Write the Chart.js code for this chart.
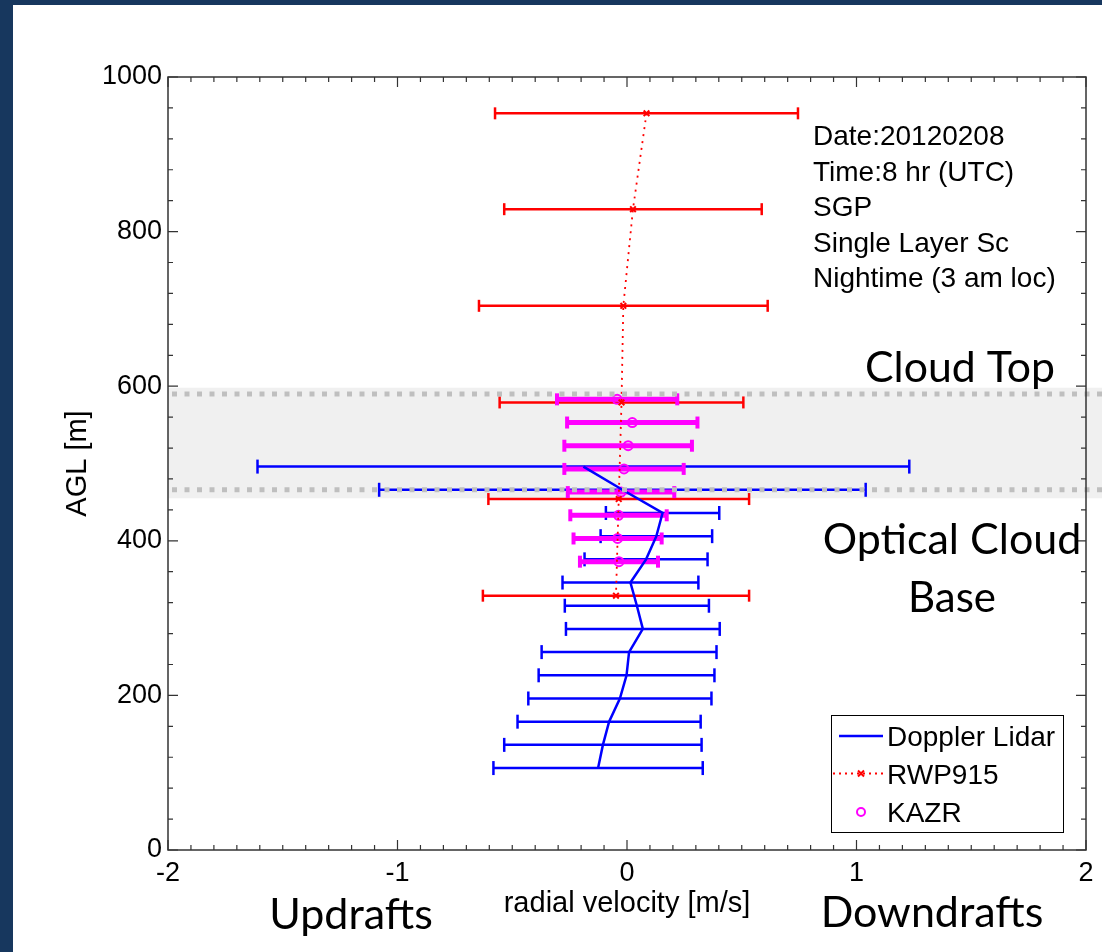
<!DOCTYPE html>
<html>
<head>
<meta charset="utf-8">
<script src="https://cdn.jsdelivr.net/npm/chart.js@4.4.1/dist/chart.umd.min.js"></script>
<style>
  html, body { margin: 0; padding: 0; background: #fff; }
  #wrap { position: relative; width: 1102px; height: 952px; overflow: hidden; background: #fff; }
  #c { position: absolute; left: 0; top: 0; }
  .navy { position: absolute; background: #17375e; }
</style>
</head>
<body>
<div id="wrap">
  <canvas id="c" width="1102" height="952"></canvas>
  <div class="navy" style="left:0;top:0;width:1102px;height:5px"></div>
  <div class="navy" style="left:0;top:0;width:13px;height:952px"></div>
</div>
<script>
// Doppler Lidar: height [m], mean radial velocity [m/s], error bar half-width
const LIDAR_H = [496, 466, 436, 406, 376, 346, 316, 286, 256, 226, 196, 166, 136, 106];
const LIDAR_V = [-0.19, -0.02, 0.155, 0.128, 0.083, 0.015, 0.043, 0.069, 0.009, -0.002, -0.031, -0.078, -0.105, -0.126];
const LIDAR_E = [1.42, 1.06, 0.247, 0.243, 0.268, 0.296, 0.314, 0.335, 0.381, 0.383, 0.399, 0.399, 0.43, 0.456];

// RWP915 wind profiler
const RWP_H = [953, 829, 704, 579, 454, 329];
const RWP_V = [0.085, 0.026, -0.016, -0.024, -0.036, -0.048];
const RWP_E = [0.66, 0.561, 0.629, 0.531, 0.568, 0.58];

// KAZR cloud radar
const KAZR_H = [583, 553, 523, 493, 463, 433, 403, 373];
const KAZR_V = [-0.043, 0.023, 0.005, -0.013, -0.026, -0.037, -0.041, -0.035];
const KAZR_E = [0.262, 0.284, 0.278, 0.26, 0.232, 0.21, 0.192, 0.17];

// cloud layer (shaded band and dotted top / base lines), metres
const CLOUD_SHADE = [455, 598];
const CLOUD_LINES = [590, 466];

const X_TICKS = [-2, -1, 0, 1, 2];
const X_TICK_LABELS = ['-2', '-1', '0', '1', '2'];
const Y_TICKS = [0, 200, 400, 600, 800, 1000];
const Y_TICK_LABELS = ['0', '200', '400', '600', '800', '1000'];

const INFO_LINES = ['Date:20120208', 'Time:8 hr (UTC)', 'SGP', 'Single Layer Sc', 'Nightime (3 am loc)'];
const SERIES = ['Doppler Lidar', 'RWP915', 'KAZR'];

const BLUE = '#0000ff';
const RED = '#ff0000';
const MAGENTA = '#ff00ff';
const FONT = '"Liberation Sans", Arial, sans-serif';
const BIG_FONT = 'Lato, "Open Sans", sans-serif';

function points(h, v) {
    return h.map((y, i) => ({ x: v[i], y: y }));
}

function errorBars(h, v, e) {
    const pts = [];
    h.forEach((y, i) => {
        pts.push({ x: v[i] - e[i], y: y }, { x: v[i] + e[i], y: y }, { x: null, y: null });
    });
    return pts;
}

function tickLabel(value, ticks, labels) {
    const idx = ticks.findIndex(t => Math.abs(t - value) < 1e-6);
    return idx >= 0 ? labels[idx] : '';
}

const decor = {
    id: 'decor',
    beforeDatasetsDraw(chart) {
        const { ctx, chartArea, scales } = chart;
        const y0 = scales.y.getPixelForValue(CLOUD_SHADE[1]);
        const y1 = scales.y.getPixelForValue(CLOUD_SHADE[0]);
        ctx.save();
        ctx.fillStyle = '#f0f0f0';
        ctx.fillRect(chartArea.left, y0, chart.width - chartArea.left, y1 - y0);
        ctx.restore();
    },
    afterDatasetsDraw(chart) {
        const { ctx, chartArea, scales } = chart;
        const x = scales.x, y = scales.y;
        ctx.save();
        // cloud top / base dotted lines
        ctx.strokeStyle = '#bfbfbf';
        ctx.lineWidth = 5;
        ctx.setLineDash([5, 7.5]);
        CLOUD_LINES.forEach(h => {
            const py = y.getPixelForValue(h);
            ctx.beginPath();
            ctx.moveTo(chartArea.left + 4, py);
            ctx.lineTo(chart.width, py);
            ctx.stroke();
        });
        ctx.setLineDash([]);

        // box
        ctx.strokeStyle = '#333';
        ctx.lineWidth = 1.5;
        ctx.strokeRect(chartArea.left, chartArea.top, chartArea.right - chartArea.left, chartArea.bottom - chartArea.top);

        // inward ticks on all four sides
        ctx.lineWidth = 1.2;
        ctx.beginPath();
        x.ticks.forEach(t => {
            const px = x.getPixelForValue(t.value);
            const len = Math.abs(t.value - Math.round(t.value)) < 1e-6 ? 10 : 5;
            ctx.moveTo(px, chartArea.bottom);
            ctx.lineTo(px, chartArea.bottom - len);
            ctx.moveTo(px, chartArea.top);
            ctx.lineTo(px, chartArea.top + len);
        });
        y.ticks.forEach(t => {
            const py = y.getPixelForValue(t.value);
            const len = Math.round(t.value) % 200 === 0 ? 10 : 5;
            ctx.moveTo(chartArea.left, py);
            ctx.lineTo(chartArea.left + len, py);
            ctx.moveTo(chartArea.right, py);
            ctx.lineTo(chartArea.right - len, py);
        });
        ctx.stroke();
        ctx.restore();
    },
    afterDraw(chart) {
        const { ctx } = chart;
        ctx.save();
        ctx.fillStyle = '#000';
        ctx.textAlign = 'left';
        ctx.textBaseline = 'alphabetic';
        ctx.font = '28px ' + FONT;
        INFO_LINES.forEach((s, i) => {
            ctx.fillText(s, 813, 145 + i * 35.6, 250);
        });

        ctx.font = '43px ' + BIG_FONT;
        ctx.textAlign = 'center';
        ctx.fillText('Cloud Top', 960, 382, 190);
        ctx.fillText('Optical Cloud', 952, 554, 260);
        ctx.fillText('Base', 952, 612, 88);
        ctx.fillText('Updrafts', 351, 929, 167);
        ctx.fillText('Downdrafts', 932, 927, 225);

        // legend
        const lx = 831, ly = 715, lw = 232, lh = 117;
        ctx.fillStyle = '#fff';
        ctx.fillRect(lx, ly, lw, lh);
        ctx.strokeStyle = '#000';
        ctx.lineWidth = 1;
        ctx.strokeRect(lx + 0.5, ly + 0.5, lw, lh);

        const rows = [736, 773.5, 812];
        ctx.lineWidth = 2.5;
        ctx.strokeStyle = BLUE;
        ctx.beginPath();
        ctx.moveTo(839, rows[0]);
        ctx.lineTo(883, rows[0]);
        ctx.stroke();

        ctx.strokeStyle = RED;
        ctx.lineWidth = 1.8;
        ctx.setLineDash([2, 4]);
        ctx.beginPath();
        ctx.moveTo(833, rows[1]);
        ctx.lineTo(885, rows[1]);
        ctx.stroke();
        ctx.setLineDash([]);
        ctx.lineWidth = 2;
        ctx.beginPath();
        ctx.moveTo(858, rows[1] - 3);
        ctx.lineTo(864, rows[1] + 3);
        ctx.moveTo(864, rows[1] - 3);
        ctx.lineTo(858, rows[1] + 3);
        ctx.stroke();

        ctx.strokeStyle = MAGENTA;
        ctx.lineWidth = 2;
        ctx.beginPath();
        ctx.arc(861, rows[2], 4, 0, Math.PI * 2);
        ctx.stroke();

        ctx.fillStyle = '#000';
        ctx.textAlign = 'left';
        ctx.font = '28px ' + FONT;
        SERIES.forEach((s, i) => {
            ctx.fillText(s, 887, rows[i] + 10);
        });
        ctx.restore();
    }
};

new Chart(document.getElementById('c'), {
    type: 'scatter',
    data: {
        datasets: [
            {
                label: SERIES[1],
                data: points(RWP_H, RWP_V),
                showLine: true,
                borderColor: RED,
                borderWidth: 1.8,
                borderDash: [2, 5],
                pointStyle: 'crossRot',
                pointRadius: 4,
                pointBorderColor: RED,
                pointBorderWidth: 2,
                order: 1,
            },
            {
                label: SERIES[0],
                data: points(LIDAR_H, LIDAR_V),
                showLine: true,
                borderColor: BLUE,
                borderWidth: 2.5,
                pointRadius: 0,
                order: 2,
            },
            {
                label: SERIES[2],
                data: points(KAZR_H, KAZR_V),
                showLine: false,
                pointStyle: 'circle',
                pointRadius: 4.5,
                pointBorderWidth: 2,
                pointBorderColor: MAGENTA,
                pointBackgroundColor: 'rgba(0,0,0,0)',
                order: 3,
            },
            {
                label: 'KAZR error',
                data: errorBars(KAZR_H, KAZR_V, KAZR_E),
                showLine: true,
                borderColor: MAGENTA,
                borderWidth: 5,
                pointStyle: 'line',
                pointRotation: 90,
                pointRadius: 6,
                pointBorderWidth: 4,
                pointBorderColor: MAGENTA,
                order: 4,
            },
            {
                label: 'Lidar error',
                data: errorBars(LIDAR_H, LIDAR_V, LIDAR_E),
                showLine: true,
                borderColor: BLUE,
                borderWidth: 2.5,
                pointStyle: 'line',
                pointRotation: 90,
                pointRadius: 7,
                pointBorderWidth: 2.5,
                pointBorderColor: BLUE,
                order: 5,
            },
            {
                label: 'RWP error',
                data: errorBars(RWP_H, RWP_V, RWP_E),
                showLine: true,
                borderColor: RED,
                borderWidth: 2.5,
                pointStyle: 'line',
                pointRotation: 90,
                pointRadius: 6,
                pointBorderWidth: 2.5,
                pointBorderColor: RED,
                order: 6,
            },
        ],
    },
    options: {
        responsive: false,
        animation: false,
        devicePixelRatio: 1,
        events: [],
        layout: { padding: { left: 0, right: 16, top: 77, bottom: 0 } },
        plugins: {
            legend: { display: false },
            tooltip: { enabled: false },
        },
        scales: {
            x: {
                type: 'linear',
                position: 'bottom',
                min: -2,
                max: 2,
                afterFit: s => { s.height = 102; },
                grid: { display: false, drawTicks: false },
                border: { display: false },
                ticks: {
                    stepSize: 0.1,
                    autoSkip: false,
                    maxRotation: 0,
                    padding: 7,
                    color: '#000',
                    font: { family: FONT, size: 27 },
                    callback: v => tickLabel(v, X_TICKS, X_TICK_LABELS),
                },
                title: {
                    display: true,
                    text: 'radial velocity [m/s]',
                    color: '#000',
                    font: { family: FONT, size: 29 },
                    padding: { top: 0, bottom: 31 },
                },
            },
            y: {
                type: 'linear',
                position: 'left',
                min: 0,
                max: 1000,
                afterFit: s => { s.width = 168; },
                grid: { display: false, drawTicks: false },
                border: { display: false },
                ticks: {
                    stepSize: 40,
                    autoSkip: false,
                    padding: 6,
                    color: '#000',
                    font: { family: FONT, size: 27 },
                    callback: v => tickLabel(v, Y_TICKS, Y_TICK_LABELS),
                },
                title: {
                    display: true,
                    text: 'AGL [m]',
                    color: '#000',
                    font: { family: FONT, size: 29 },
                    padding: { top: 61, bottom: 0 },
                },
            },
        },
    },
    plugins: [decor],
});
</script>
</body>
</html>
